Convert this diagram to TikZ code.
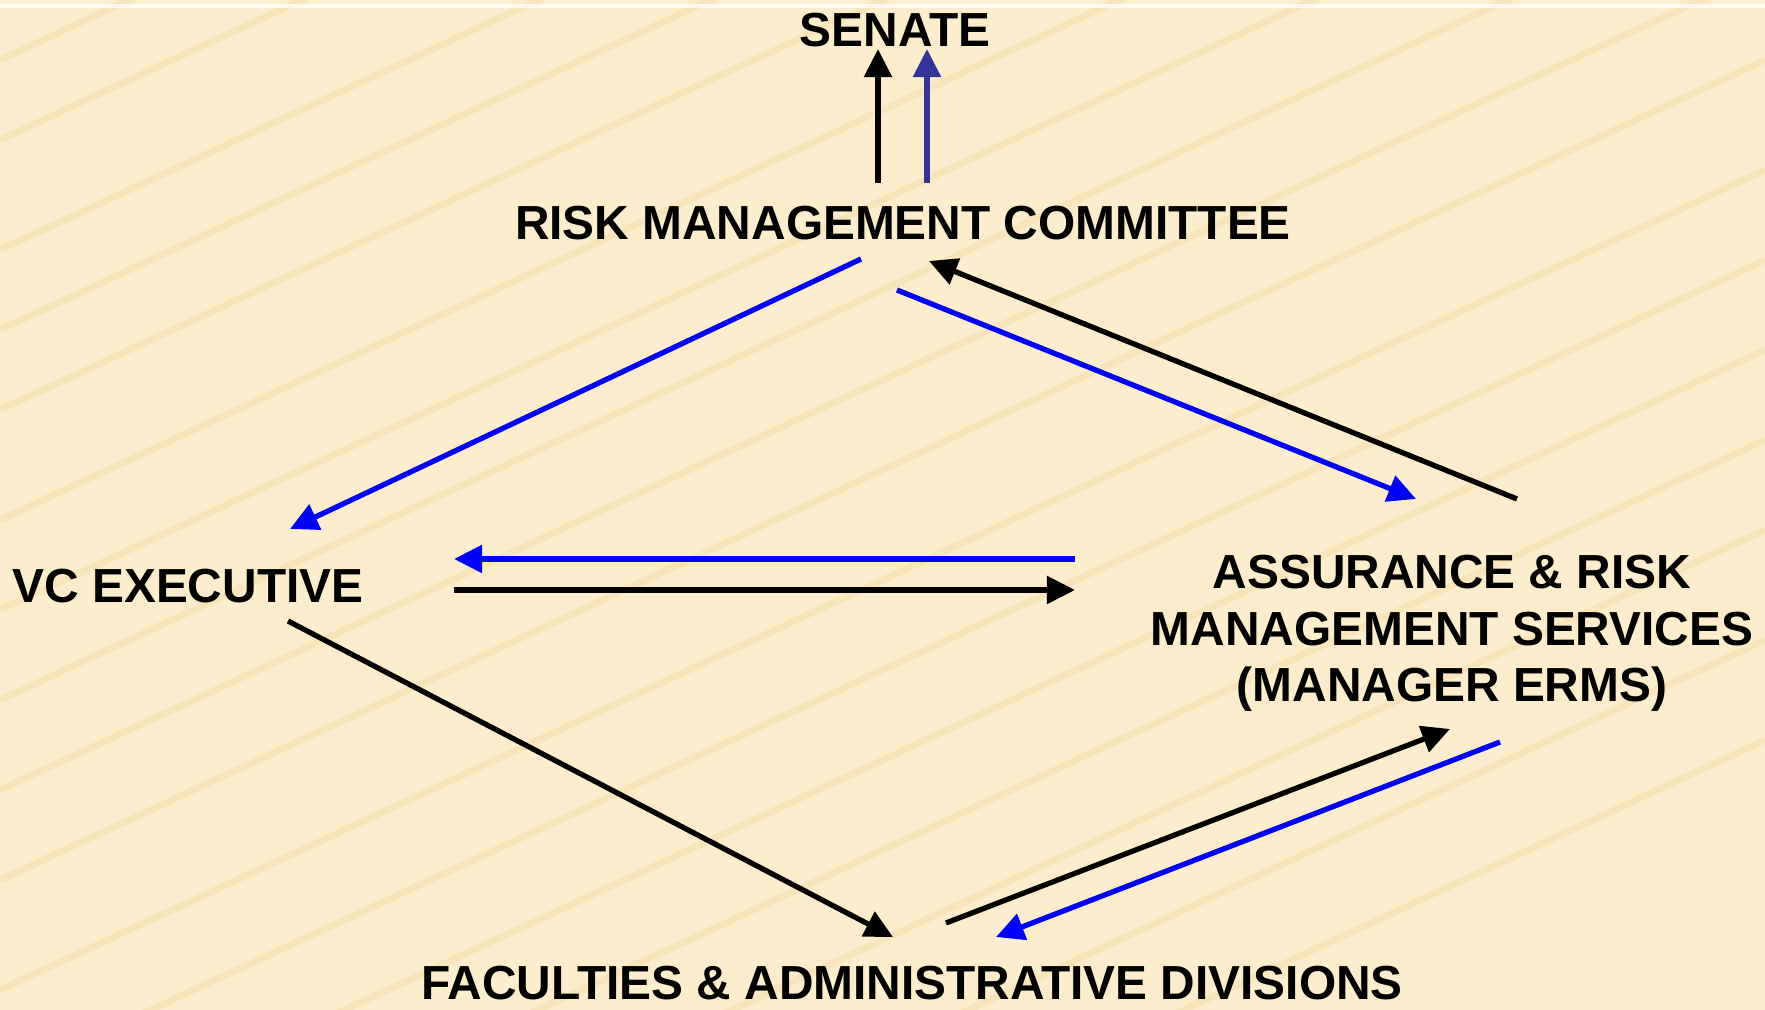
\documentclass[tikz,border=0pt]{standalone}
\usepackage{fontspec}
\setmainfont{Liberation Sans}
\usepackage{tikz}
\usetikzlibrary{arrows.meta}
\definecolor{sandBg}{RGB}{252,238,204}
\definecolor{sandStreak}{RGB}{238,200,120}
\definecolor{senateBlue}{RGB}{51,51,153}
\tikzstyle{unitLabel} = [font=\fontsize{13.6}{16.2}\selectfont\bfseries, inner sep=0, align=center, anchor=base]
\tikzstyle{blackFlow} = [-{Triangle[length=0.28cm, width=0.27cm]}, line width=1.5pt, black]
\tikzstyle{blueFlow} = [-{Triangle[length=0.28cm, width=0.27cm]}, line width=1.5pt, blue]

\begin{document}
\begin{tikzpicture}[x=0.01cm, y=-0.01cm]
    % background
    \fill[sandBg] (0,0) rectangle (1765,1010);
    \useasboundingbox (0,0) rectangle (1765,1010);
    \foreach \s in {60,140,250,330,410,520,610,700,790,880,990,1080,1170,1260,1350,1460,1560}
        \draw[sandStreak, opacity=0.22, line width=2pt] (0,\s) -- (1765,\s-820);
    \fill[white, opacity=0.8] (0,4) rectangle (1765,8);

    \node (senate) at (895,47) [unitLabel] {SENATE};
    \node (rmc) at (903,240) [unitLabel] {RISK MANAGEMENT COMMITTEE};
    \node (vc) at (188,603) [unitLabel] {VC EXECUTIVE};
    \node (arms) at (1452,702) [unitLabel] {ASSURANCE \& RISK\\MANAGEMENT SERVICES\\(MANAGER ERMS)};
    \node (fac) at (912,1000) [unitLabel] {FACULTIES \& ADMINISTRATIVE DIVISIONS};

    \draw [blackFlow] ([shift={(-25,-57)}]rmc.base) -- ([shift={(-17,2)}]senate.base);
    \draw [blueFlow, senateBlue] ([shift={(24,-57)}]rmc.base) -- ([shift={(32,2)}]senate.base);
    \draw [blueFlow] ([shift={(-42,19)}]rmc.base) -- ([shift={(102,-74)}]vc.base);
    \draw [blackFlow] ([shift={(65,-203)}]arms.base) -- ([shift={(26,21)}]rmc.base);
    \draw [blueFlow] ([shift={(-6,50)}]rmc.base) -- ([shift={(-36,-203)}]arms.base);
    \draw [blueFlow] ([shift={(-377,-143)}]arms.base) -- ([shift={(266,-44)}]vc.base);
    \draw [blackFlow] ([shift={(266,-13)}]vc.base) -- ([shift={(-377,-112)}]arms.base);
    \draw [blackFlow] ([shift={(100,18)}]vc.base) -- ([shift={(-19,-63)}]fac.base);
    \draw [blackFlow] ([shift={(34,-77)}]fac.base) -- ([shift={(-2,27)}]arms.base);
    \draw [blueFlow] ([shift={(48,40)}]arms.base) -- ([shift={(84,-63)}]fac.base);
\end{tikzpicture}
\end{document}
